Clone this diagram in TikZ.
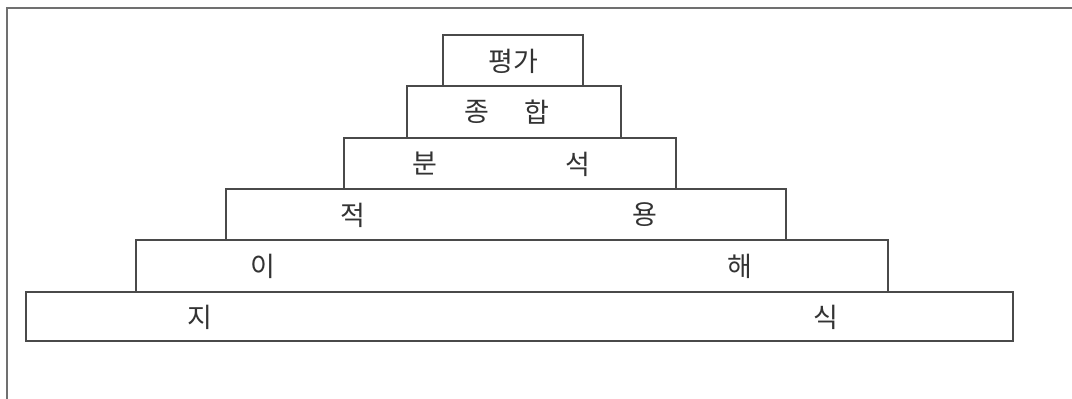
\documentclass[tikz,border=0pt]{standalone}
\usepackage{fontspec}
\newfontfamily\kr{Noto Sans CJK KR}
\definecolor{edge}{HTML}{4A4A4A}
\definecolor{frame}{HTML}{707070}
\begin{document}
\begin{tikzpicture}[x=1pt,y=-1pt,
  level/.style={draw=edge, line width=1.8pt, anchor=north west, inner sep=0pt, outer sep=0pt},
  word/.style={font=\kr\fontsize{27}{27}\selectfont, text=black!80, inner sep=0pt}]
\useasboundingbox (0,0) rectangle (1072,399);
\draw[frame, line width=2.2pt] (7,399) -- (7,8) -- (1072,8);
% levels (bottom first so edges overlap cleanly)
\node[level, minimum width=987pt, minimum height=49pt] (l1) at (26,292) {};
\node[level, minimum width=752pt, minimum height=52pt] (l2) at (136,240) {};
\node[level, minimum width=560pt, minimum height=51pt] (l3) at (226,189) {};
\node[level, minimum width=332pt, minimum height=51pt] (l4) at (344,138) {};
\node[level, minimum width=214pt, minimum height=52pt] (l5) at (407,86) {};
\node[level, minimum width=140pt, minimum height=51pt] (l6) at (443,35) {};
% labels
\node[word] (t6) at (513,61) {평가};
\node[word] (t5a) at (477,112) {종}; \node[word] (t5b) at (537,112) {합};
\node[word] (t4a) at (425,164) {분}; \node[word] (t4b) at (578,164) {석};
\node[word] (t3a) at (353,215) {적}; \node[word] (t3b) at (645,215) {용};
\node[word] (t2a) at (263,266) {이}; \node[word] (t2b) at (740,266) {해};
\node[word] (t1a) at (200,317) {지}; \node[word] (t1b) at (826,317) {식};
\end{tikzpicture}
\end{document}
